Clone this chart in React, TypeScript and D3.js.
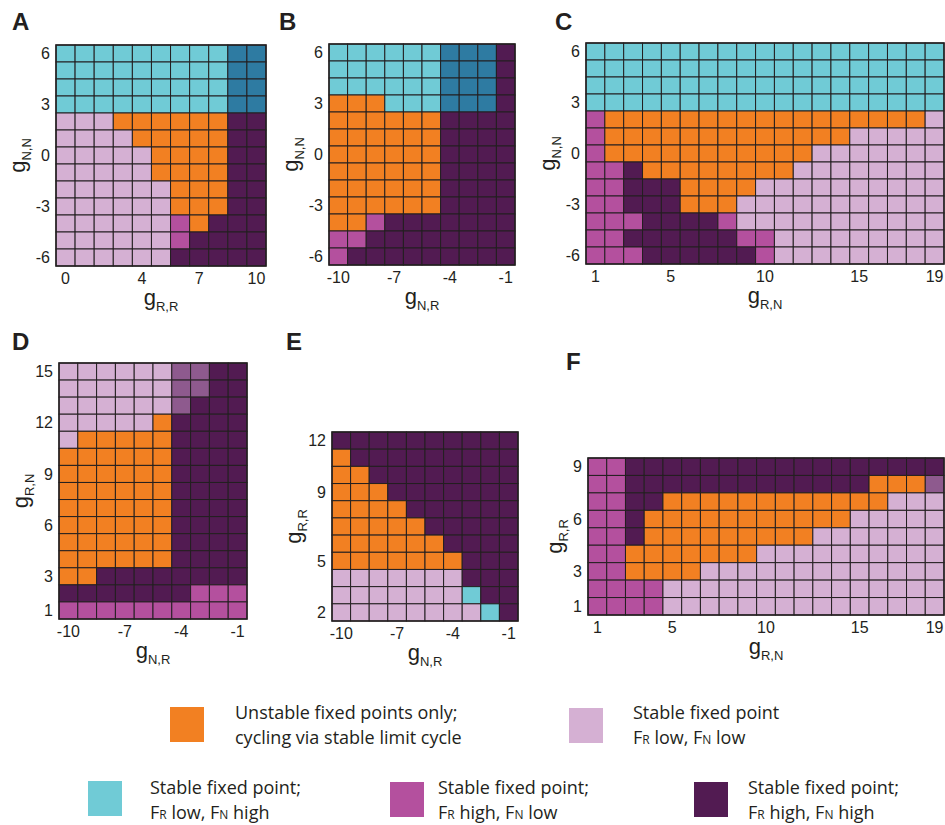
import React from 'react';
import * as d3 from 'd3';

// state colours
const COLORS: Record<string, string> = {
  O: '#f28022', // unstable, limit cycle
  L: '#d5b0d3', // stable, FR low FN low
  C: '#70cbd6', // stable, FR low FN high
  D: '#2e7ba2', // cyan variant (dark)
  M: '#b4509e', // stable, FR high FN low
  P: '#521b52', // stable, FR high FN high
  G: '#8e5a8e', // mixed
};

// grids: one string per row, top row = highest y value, spaces only for reading
const gridA = [
  'CCCCC CCCCD D',
  'CCCCC CCCCD D',
  'CCCCC CCCCD D',
  'CCCCC CCCCD D',
  'LLLOO OOOOP P',
  'LLLLO OOOOP P',
  'LLLLL OOOOP P',
  'LLLLL OOOOP P',
  'LLLLL LOOOP P',
  'LLLLL LOOOP P',
  'LLLLL LMOPP P',
  'LLLLL LMPPP P',
  'LLLLL LPPPP P',
];
const gridB = [
  'CCCCC CDDDP',
  'CCCCC CDDDP',
  'CCCCC CDDDP',
  'OOOCC CDDDP',
  'OOOOO OPPPP',
  'OOOOO OPPPP',
  'OOOOO OPPPP',
  'OOOOO OPPPP',
  'OOOOO OPPPP',
  'OOOOO OPPPP',
  'OOMPP PPPPP',
  'MMPPP PPPPP',
  'MPPPP PPPPP',
];
const gridC = [
  'CCCCC CCCCC CCCCC CCCC',
  'CCCCC CCCCC CCCCC CCCC',
  'CCCCC CCCCC CCCCC CCCC',
  'CCCCC CCCCC CCCCC CCCC',
  'MOOOO OOOOO OOOOO OOOL',
  'MOOOO OOOOO OOOOL LLLL',
  'MOOOO OOOOO OOLLL LLLL',
  'MMPOO OOOOO OLLLL LLLL',
  'MMPPP OOOOL LLLLL LLLL',
  'MMPPP OOOLL LLLLL LLLL',
  'MMMPP PPMLL LLLLL LLLL',
  'MMPPP PPPMM LLLLL LLLL',
  'MMMPP PPPPM LLLLL LLLL',
];
const gridD = [
  'LLLLL LGGPP',
  'LLLLL LGGPP',
  'LLLLL LGPPP',
  'LLLLL OPPPP',
  'LOOOO OPPPP',
  'OOOOO OPPPP',
  'OOOOO OPPPP',
  'OOOOO OPPPP',
  'OOOOO OPPPP',
  'OOOOO OPPPP',
  'OOOOO OPPPP',
  'OOOOO OPPPP',
  'OOPPP PPPPP',
  'PPPPP PPMMM',
  'MMMMM MMMMM',
];
const gridE = [
  'PPPPP PPPPP',
  'OPPPP PPPPP',
  'OOPPP PPPPP',
  'OOOPP PPPPP',
  'OOOOP PPPPP',
  'OOOOO PPPPP',
  'OOOOO OPPPP',
  'OOOOO OOPPP',
  'LLLLL LLPPP',
  'LLLLL LLCPP',
  'LLLLL LLLCP',
];
const gridF = [
  'MMPPP PPPPP PPPPP PPPP',
  'MMPPP PPPPP PPPPP OOOG',
  'MMPPO OOOOO OOOOO OLLL',
  'MMPOO OOOOO OOOOL LLLL',
  'MMPOO OOOOO OOLLL LLLL',
  'MMOOO OOOOL LLLLL LLLL',
  'MMOOO OLLLL LLLLL LLLL',
  'MMMML LLLLL LLLLL LLLL',
  'MMMML LLLLL LLLLL LLLL',
];

// axis values
const gNN = [6, 5, 4, 3, 2, 1, 0, -1, -2, -3, -4, -5, -6];
const gRR_A = [0, 1, 2, 3, 4, 5, 6, 7, 8, 9, 10];
const gNR = [-10, -9, -8, -7, -6, -5, -4, -3, -2, -1];
const gRN = [1, 2, 3, 4, 5, 6, 7, 8, 9, 10, 11, 12, 13, 14, 15, 16, 17, 18, 19];
const gRN_D = [15, 14, 13, 12, 11, 10, 9, 8, 7, 6, 5, 4, 3, 2, 1];
const gRR_E = [12, 11, 10, 9, 8, 7, 6, 5, 4, 3, 2];
const gRR_F = [9, 8, 7, 6, 5, 4, 3, 2, 1];

const ticksNN = [6, 3, 0, -3, -6];
const ticksRR_A = [0, 4, 7, 10];
const ticksNR = [-10, -7, -4, -1];
const ticksRN = [1, 5, 10, 15, 19];
const ticksRN_D = [15, 12, 9, 6, 3, 1];
const ticksRR_E = [12, 9, 5, 2];
const ticksRR_F = [9, 6, 3, 1];

const legendItems = [
  { key: 'O', lines: ['Unstable fixed points only;', 'cycling via stable limit cycle'] },
  { key: 'L', lines: ['Stable fixed point', 'F{R} low, F{N} low'] },
  { key: 'C', lines: ['Stable fixed point;', 'F{R} low, F{N} high'] },
  { key: 'M', lines: ['Stable fixed point;', 'F{R} high, F{N} low'] },
  { key: 'P', lines: ['Stable fixed point;', 'F{R} high, F{N} high'] },
];

const INK = '#231f20';
const AXIS_FONT = '"Liberation Sans", Arial, sans-serif';

const panels = [
  { letter: 'A', grid: gridA, xs: gRR_A, ys: gNN, xt: ticksRR_A, yt: ticksNN, box: [56, 266, 45, 266], xl: ['g', 'R,R'], yl: ['g', 'N,N'], ylx: 25, lp: [12, 30] },
  { letter: 'B', grid: gridB, xs: gNR, ys: gNN, xt: ticksNR, yt: ticksNN, box: [329, 515, 44, 265], xl: ['g', 'N,R'], yl: ['g', 'N,N'], ylx: 298, lp: [279, 30] },
  { letter: 'C', grid: gridC, xs: gRN, ys: gNN, xt: ticksRN, yt: ticksNN, box: [586, 944, 43, 264], xl: ['g', 'R,N'], yl: ['g', 'N,N'], ylx: 555, lp: [555, 30] },
  { letter: 'D', grid: gridD, xs: gNR, ys: gRN_D, xt: ticksNR, yt: ticksRN_D, box: [59, 247, 363, 619], xl: ['g', 'N,R'], yl: ['g', 'R,N'], ylx: 28, lp: [12, 350] },
  { letter: 'E', grid: gridE, xs: gNR, ys: gRR_E, xt: ticksNR, yt: ticksRR_E, box: [332, 518, 432, 621], xl: ['g', 'N,R'], yl: ['g', 'R,R'], ylx: 301, lp: [286, 350] },
  { letter: 'F', grid: gridF, xs: gRN, ys: gRR_F, xt: ticksRN, yt: ticksRR_F, box: [588, 944, 458, 615], xl: ['g', 'R,N'], yl: ['g', 'R,R'], ylx: 562, lp: [566, 370] },
];

// legend placement: [square x, square y, text x, first baseline]
const legendPos: Record<string, number[]> = {
  O: [170, 707, 235, 719],
  L: [569, 708, 633, 719],
  C: [88, 781, 150, 794],
  M: [390, 782, 438, 794],
  P: [694, 782, 748, 794],
};

const Label = ({ parts }: { parts: string[] }) => (
  <>
    <tspan fontSize={22}>{parts[0]}</tspan>
    <tspan fontSize={13} dy={6}>{parts[1]}</tspan>
  </>
);

function Heatmap({ p }: { p: any }) {
  const [x0, x1, y0, y1] = p.box;
  const x = d3.scaleBand<number>().domain(p.xs).range([x0, x1]);
  const y = d3.scaleBand<number>().domain(p.ys).range([y0, y1]);
  const rows: string[][] = p.grid.map((r: string) => r.replace(/ /g, '').split(''));
  return (
    <g>
      {rows.map((row, i) =>
        row.map((c, j) => (
          <rect
            key={`${i}-${j}`}
            x={x(p.xs[j])}
            y={y(p.ys[i])}
            width={x.bandwidth()}
            height={y.bandwidth()}
            fill={COLORS[c]}
            stroke={INK}
            strokeWidth={1}
          />
        ))
      )}
      <rect x={x0} y={y0} width={x1 - x0} height={y1 - y0} fill="none" stroke={INK} strokeWidth={1.5} />
      <g fontFamily={AXIS_FONT} fontSize={16} fill={INK}>
        {p.yt.map((t: number) => (
          <text key={'y' + t} x={x0 - 6} y={(y(t) ?? 0) + y.bandwidth() / 2} dy="0.36em" textAnchor="end">
            {String(t)}
          </text>
        ))}
        {p.xt.map((t: number) => (
          <text key={'x' + t} x={(x(t) ?? 0) + x.bandwidth() / 2} y={y1 + 18} textAnchor="middle">
            {String(t)}
          </text>
        ))}
        <text x={(x0 + x1) / 2} y={y1 + 39} textAnchor="middle">
          <Label parts={p.xl} />
        </text>
        <text transform={`translate(${p.ylx},${(y0 + y1) / 2}) rotate(-90)`} textAnchor="middle">
          <Label parts={p.yl} />
        </text>
      </g>
      <text x={p.lp[0]} y={p.lp[1]} fontFamily={AXIS_FONT} fontWeight="bold" fontSize={24} fill={INK}>
        {p.letter}
      </text>
    </g>
  );
}

// "F{R}" -> F followed by small R
function LegendLine({ s }: { s: string }) {
  const parts = s.split(/(\{[A-Z]\})/).filter((d) => d.length);
  return (
    <>
      {parts.map((d, i) =>
        d.startsWith('{') ? (
          <tspan key={i} fontSize={12}>{d.slice(1, -1)}</tspan>
        ) : (
          <tspan key={i}>{d}</tspan>
        )
      )}
    </>
  );
}

export default function App() {
  return (
    <svg
      width={945}
      height={825}
      style={{ position: 'absolute', left: 0, top: 0, background: '#fff' }}
    >
      {panels.map((p) => (
        <Heatmap key={p.letter} p={p} />
      ))}
      <g fontFamily='"Open Sans", sans-serif' fontSize={18} fill={INK}>
        {legendItems.map((it) => {
          const [sx, sy, tx, ty] = legendPos[it.key];
          return (
            <g key={it.key}>
              <rect x={sx} y={sy} width={34} height={35} fill={COLORS[it.key]} />
              {it.lines.map((ln, i) => (
                <text key={i} x={tx} y={ty + i * 25}>
                  <LegendLine s={ln} />
                </text>
              ))}
            </g>
          );
        })}
      </g>
    </svg>
  );
}
